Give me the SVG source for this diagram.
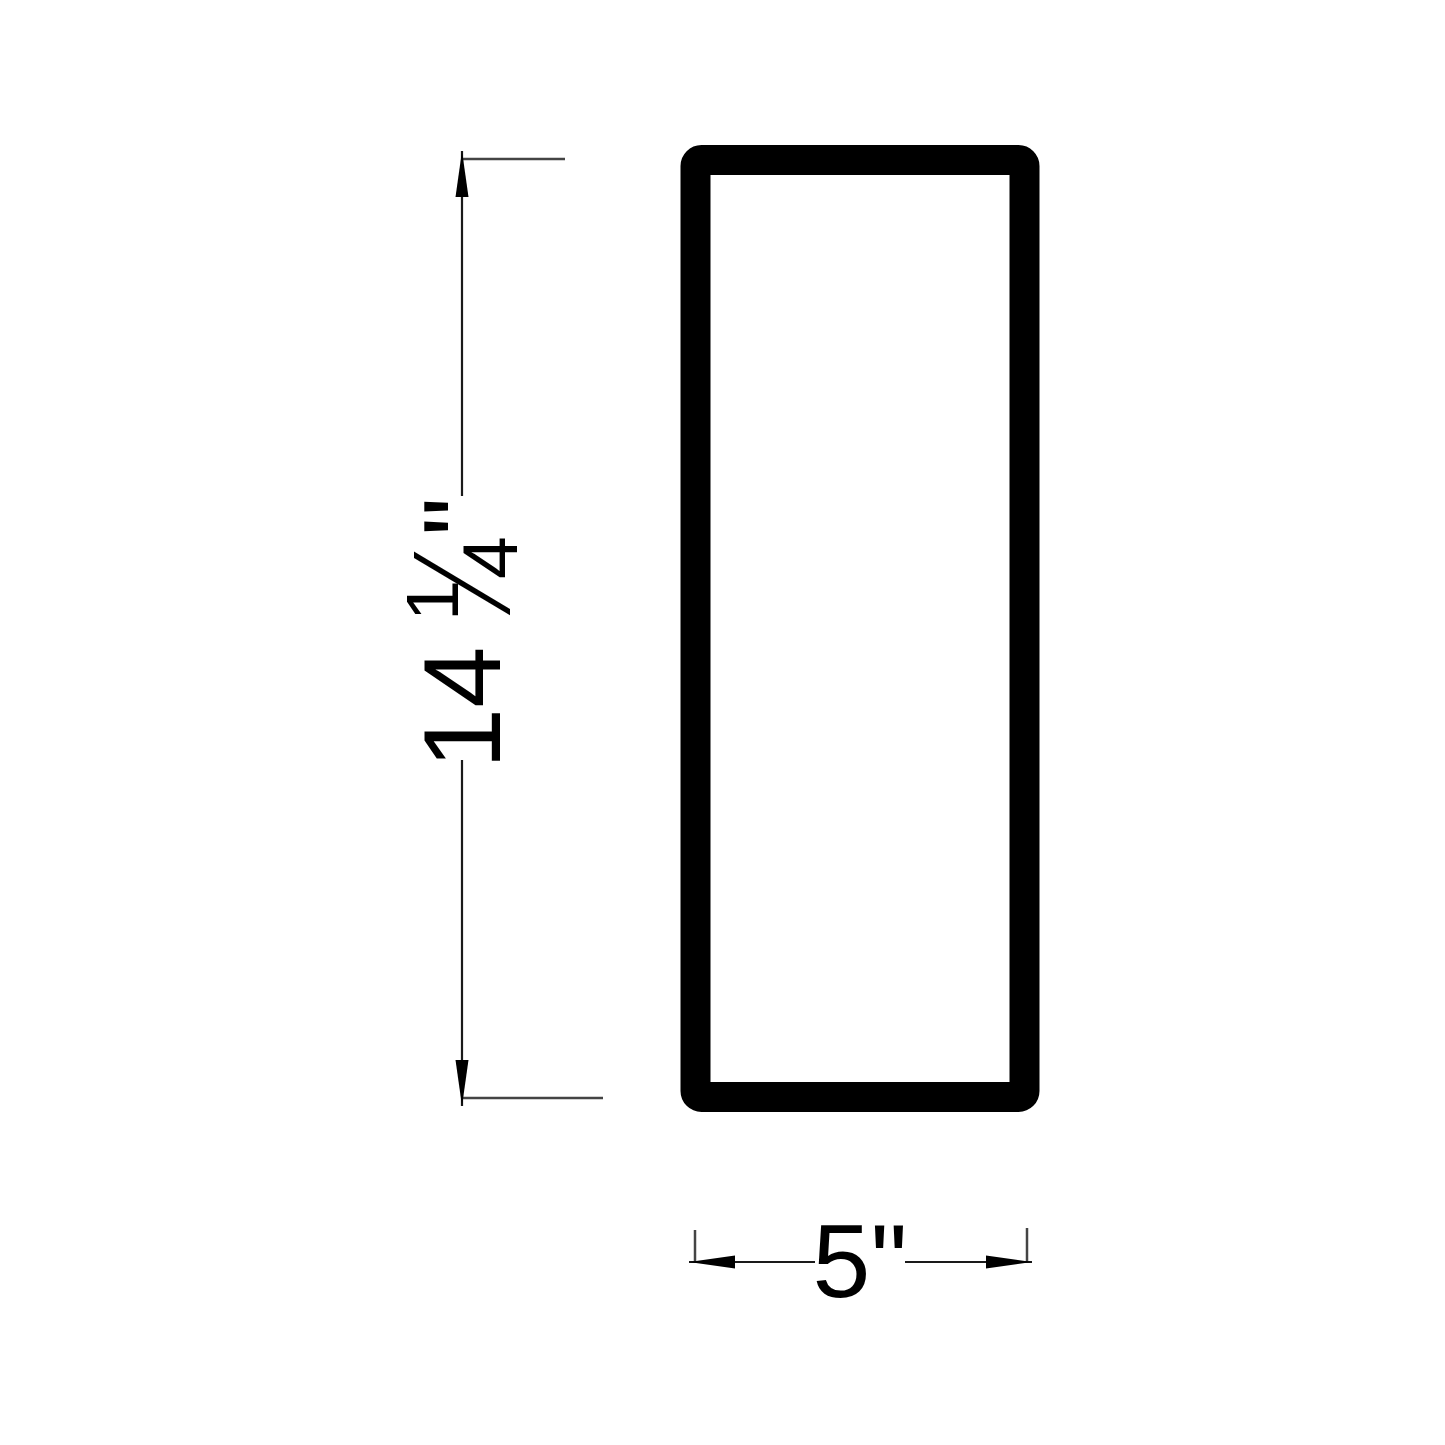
<svg xmlns="http://www.w3.org/2000/svg" width="1445" height="1445" viewBox="0 0 1445 1445">
<style>
.dim{stroke:#1a1a1a;stroke-width:2.2;fill:none}
.ext{stroke:#444;stroke-width:2.5;fill:none}
.lbl{font-family:"Liberation Sans",Arial,sans-serif;fill:#000}
.frac{font-family:"DejaVu Sans",sans-serif;font-weight:200}
</style>
<defs>
<marker id="ah" markerWidth="46" markerHeight="16" refX="46" refY="8" orient="auto-start-reverse" markerUnits="userSpaceOnUse">
<path d="M0,1.5 L46,8 L0,14.5 Z" fill="#000"/>
</marker>
</defs>
<rect width="1445" height="1445" fill="#fff"/>
<g id="panel">
<rect x="695.5" y="160" width="329" height="937" rx="6" fill="none" stroke="#000" stroke-width="30" stroke-linejoin="round"/>
</g>
<g id="connectors">
<line class="ext" x1="462" y1="159" x2="565" y2="159"/>
<line class="ext" x1="462" y1="1098" x2="603" y2="1098"/>
<line class="dim" x1="462" y1="496" x2="462" y2="151" marker-end="url(#ah)"/>
<line class="dim" x1="462" y1="760" x2="462" y2="1106" marker-end="url(#ah)"/>
<line class="ext" x1="695" y1="1230" x2="695" y2="1262"/>
<line class="ext" x1="1027" y1="1228" x2="1027" y2="1262"/>
<line class="dim" x1="815" y1="1262" x2="689" y2="1262" marker-end="url(#ah)"/>
<line class="dim" x1="905" y1="1262" x2="1032" y2="1262" marker-end="url(#ah)"/>
</g>
<g id="labels">
<text class="lbl" transform="translate(500,628) rotate(-90)" font-size="110"><tspan x="-141" y="0">14 </tspan><tspan x="7" y="-42" font-size="74">1</tspan><tspan class="frac" x="34" y="8" font-size="126">⁄</tspan><tspan x="49" y="17" font-size="77">4</tspan><tspan x="92" y="0">"</tspan></text>
<text class="lbl" x="860" y="1297" text-anchor="middle" font-size="104">5"</text>
</g>
</svg>
